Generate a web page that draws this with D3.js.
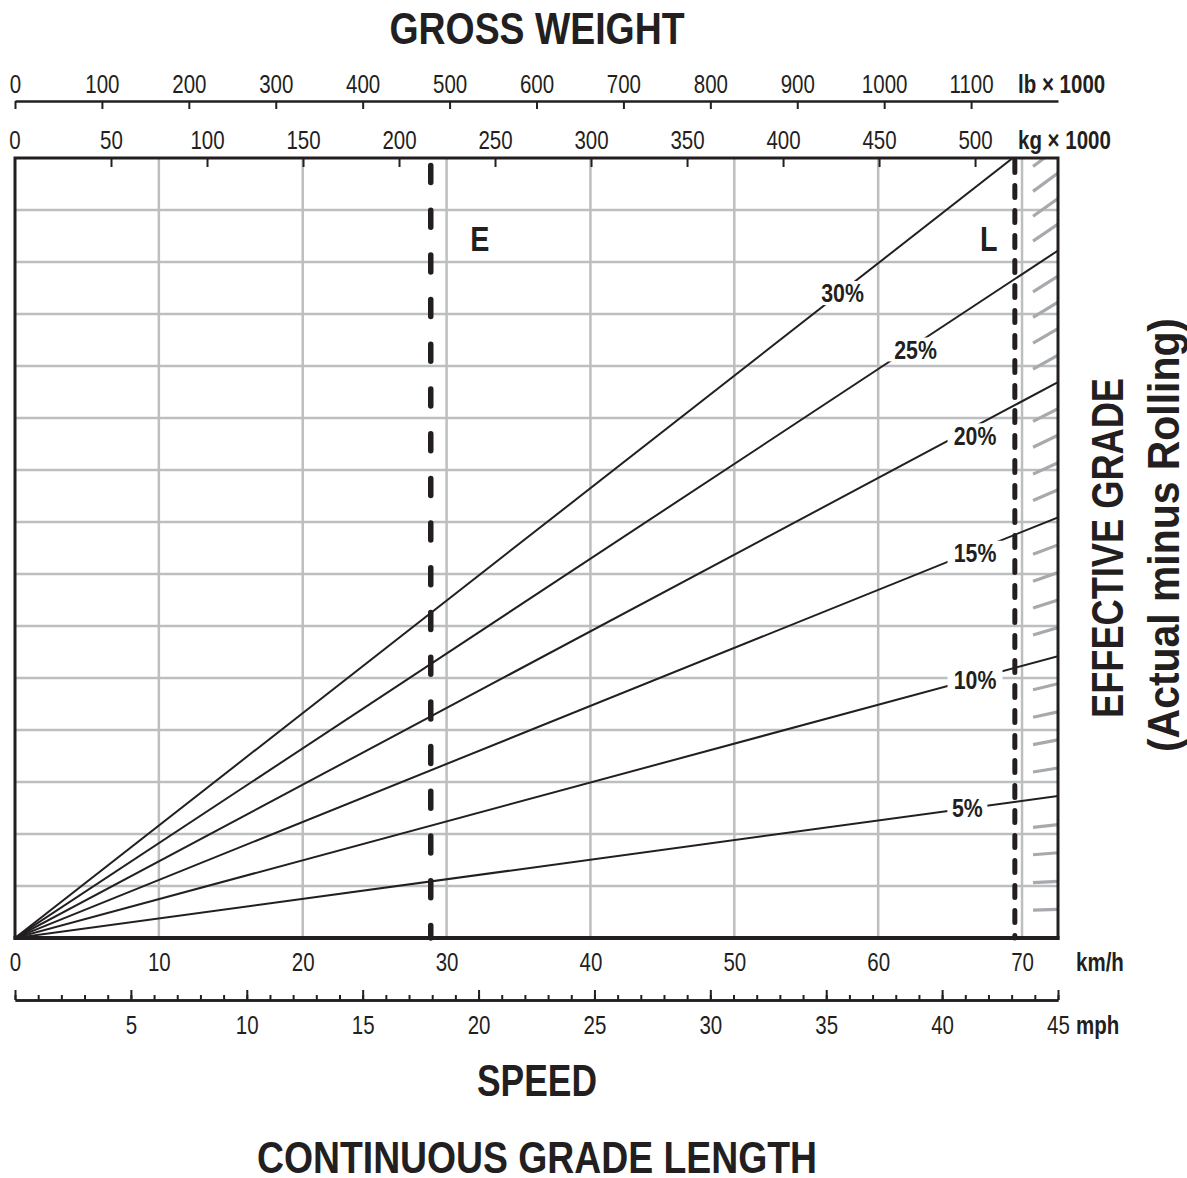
<!DOCTYPE html>
<html lang="en">
<head>
<meta charset="UTF-8">
<title>Effective grade</title>
<style>
    body { margin: 0; background: #fff; }
    text { font-family: "Liberation Sans", Arial, sans-serif; fill: #231f20; }
    .bold { font-weight: bold; }
</style>
</head>
<body>
<div class="chart"></div>
<script src="https://d3js.org/d3.v7.min.js"></script>
<script>
    var w = 1187, h = 1178;
    var plotLeft = 15, plotRight = 1058, plotTop = 158, plotBottom = 938;
    var narrow = "scale(0.82,1)";

    // axis ticks
    var lbTicks = [0, 100, 200, 300, 400, 500, 600, 700, 800, 900, 1000, 1100];
    var kgTicks = [50, 100, 150, 200, 250, 300, 350, 400, 450, 500];
    var kmhTicks = [0, 10, 20, 30, 40, 50, 60, 70];
    var mphMajor = [0, 5, 10, 15, 20, 25, 30, 35, 40, 45];
    var mphMinor = d3.range(0, 46);

    // grade lines: value reached at the right edge (grid units, 15 = top)
    var gradeLabels = ["5%", "10%", "15%", "20%", "25%", "30%"];
    var gradeEnd = [2.73, 5.42, 8.09, 10.69, 13.22, 15.68];
    var gradeLabelAt = [496, 500, 500, 500, 469, 431];   // kg x 1000 along the line

    // 1% marks at the right edge
    var minorEnd = [0.55, 1.09, 1.64, 2.18, 3.27, 3.81, 4.35, 4.89, 5.97, 6.50, 7.03, 7.56,
                    8.62, 9.14, 9.67, 10.18, 11.21, 11.72, 12.23, 12.73, 13.73, 14.22, 14.71, 15.20];

    // E / L speed limits (km/h)
    var markers = ["E", "L"];
    var markerSpeed = [28.9, 69.5];

    var ink = "#231f20", grid = "#bcbec0", hatch = "#a7a9ac";

    var svg = d3.select(".chart").append("svg")
        .attr("width", w).attr("height", h);

    var kgMax = 543.2;
    var x = d3.scaleLinear().domain([0, kgMax]).range([plotLeft, plotRight]);
    var xLb = d3.scaleLinear().domain([0, 1200]).range([plotLeft, plotRight]);
    var xKmh = d3.scaleLinear().domain([0, 72.5]).range([plotLeft, plotRight]);
    var xMph = d3.scaleLinear().domain([0, 45]).range([plotLeft, plotRight]);
    var y = d3.scaleLinear().domain([0, 15]).range([plotBottom, plotTop]);

    // condensed text: a group at (tx, ty) holding a horizontally squeezed text
    function label(parent, str, tx, ty, size, anchor, bold) {
        var g = parent.append("g").attr("transform", "translate(" + tx + "," + ty + ")");
        g.append("text").attr("class", bold ? "bold" : null)
            .attr("transform", narrow)
            .attr("text-anchor", anchor).attr("dy", "0.36em")
            .style("font-size", size + "px")
            .text(str);
        return g;
    }

    svg.append("clipPath").attr("id", "plot")
        .append("rect").attr("x", plotLeft).attr("y", plotTop)
        .attr("width", plotRight - plotLeft).attr("height", plotBottom - plotTop);

    // grid
    svg.append("g").selectAll("line").data(d3.range(1, 15)).enter()
        .append("line")
        .attr("x1", plotLeft).attr("x2", plotRight)
        .attr("y1", function(d) { return y(d); })
        .attr("y2", function(d) { return y(d); })
        .attr("stroke", grid).attr("stroke-width", 2.5);
    svg.append("g").selectAll("line").data(kmhTicks.slice(1)).enter()
        .append("line")
        .attr("x1", function(d) { return xKmh(d); })
        .attr("x2", function(d) { return xKmh(d); })
        .attr("y1", plotTop).attr("y2", plotBottom)
        .attr("stroke", grid).attr("stroke-width", 2.5);

    // 1% hatch marks
    var hx0 = 530.2;
    svg.append("g").attr("clip-path", "url(#plot)")
        .selectAll("line").data(minorEnd).enter()
        .append("line")
        .attr("x1", x(hx0)).attr("x2", x(kgMax))
        .attr("y1", function(d) { return y(d * hx0 / kgMax); })
        .attr("y2", function(d) { return y(d); })
        .attr("stroke", hatch).attr("stroke-width", 3.2);

    // grade lines
    svg.append("g").attr("clip-path", "url(#plot)")
        .selectAll("line").data(gradeEnd).enter()
        .append("line")
        .attr("x1", x(0)).attr("y1", y(0))
        .attr("x2", x(kgMax))
        .attr("y2", function(d) { return y(d); })
        .attr("stroke", ink).attr("stroke-width", 2);

    // grade labels (small nudges to sit like the print)
    var labelNudge = [-1, 1, 2, 9, 5, 2];
    var gLabels = svg.append("g");
    gradeLabels.forEach(function(d, i) {
        var kx = gradeLabelAt[i];
        var g = label(gLabels, d, x(kx), y(gradeEnd[i] * kx / kgMax) + labelNudge[i], 26, "middle", true);
        var half = d.length * 7.5 + 5;
        g.insert("rect", "text")
            .attr("x", -half).attr("width", half * 2)
            .attr("y", -12).attr("height", 24)
            .attr("fill", "#fff");
    });

    // E / L dashed lines
    var dash = [{w: 5.5, arr: "17,27.7", y0: 165.5}, {w: 5, arr: "12,13", y0: 160.5}];
    svg.append("g").selectAll("line").data(markerSpeed).enter()
        .append("line")
        .attr("x1", function(d) { return xKmh(d); })
        .attr("x2", function(d) { return xKmh(d); })
        .attr("y1", function(d, i) { return dash[i].y0; })
        .attr("y2", plotBottom)
        .attr("stroke", ink)
        .attr("stroke-width", function(d, i) { return dash[i].w; })
        .attr("stroke-linecap", "round")
        .attr("stroke-dasharray", function(d, i) { return dash[i].arr; });
    var labelDx = [49, -26];
    markers.forEach(function(d, i) {
        label(svg, d, xKmh(markerSpeed[i]) + labelDx[i], 238, 35, "middle", true);
    });

    // plot border
    svg.append("rect").attr("x", plotLeft).attr("y", plotTop)
        .attr("width", plotRight - plotLeft).attr("height", plotBottom - plotTop)
        .attr("fill", "none").attr("stroke", ink).attr("stroke-width", 3);
    svg.append("line").attr("x1", plotLeft - 1.5).attr("x2", plotRight + 1.5)
        .attr("y1", plotBottom).attr("y2", plotBottom)
        .attr("stroke", ink).attr("stroke-width", 4);

    function styleAxis(g, size) {
        g.selectAll("text").style("font-size", size + "px").attr("fill", ink)
            .attr("transform", narrow);
        g.selectAll("line").attr("stroke", ink).attr("stroke-width", 2);
        g.select(".domain").attr("stroke", ink).attr("stroke-width", 2.5);
    }
    var fmt = d3.format("d");

    // lb axis (top)
    var gLb = svg.append("g").attr("transform", "translate(0,101)")
        .call(d3.axisTop(xLb).tickValues(lbTicks).tickSize(-8).tickSizeOuter(0)
            .tickPadding(8).tickFormat(fmt));
    styleAxis(gLb, 25);

    // kg axis (plot top)
    var gKg = svg.append("g").attr("transform", "translate(0," + plotTop + ")")
        .call(d3.axisTop(x).tickValues(kgTicks).tickSize(-9).tickSizeOuter(0)
            .tickPadding(9).tickFormat(fmt));
    styleAxis(gKg, 25);
    gKg.select(".domain").remove();
    label(svg, "0", plotLeft, 140, 25, "middle", false);

    // km/h labels
    var gKmh = svg.append("g").attr("transform", "translate(0," + plotBottom + ")")
        .call(d3.axisBottom(xKmh).tickValues(kmhTicks).tickSize(0).tickPadding(15).tickFormat(fmt));
    styleAxis(gKmh, 25);
    gKmh.select(".domain").remove();

    // mph axis
    var gMphMinor = svg.append("g").attr("transform", "translate(0,1000)")
        .call(d3.axisBottom(xMph).tickValues(mphMinor).tickSize(-5).tickSizeOuter(0).tickFormat(""));
    styleAxis(gMphMinor, 25);
    var gMph = svg.append("g").attr("transform", "translate(0,1000)")
        .call(d3.axisBottom(xMph).tickValues(mphMajor).tickSize(-10).tickSizeOuter(0).tickPadding(16)
            .tickFormat(function(d) { return d === 0 ? "" : d; }));
    styleAxis(gMph, 25);

    // unit labels
    label(svg, "lb \u00d7 1000", 1018, 84, 25, "start", true);
    label(svg, "kg \u00d7 1000", 1018, 140, 25, "start", true);
    label(svg, "km/h", 1076, 962, 25, "start", true);
    label(svg, "mph", 1076, 1025, 25, "start", true);

    // titles
    var titles = [["GROSS WEIGHT", 537, 28, 295], ["SPEED", 537, 1080, 120],
                  ["CONTINUOUS GRADE LENGTH", 537, 1157, 560]];
    svg.append("g").selectAll("text").data(titles).enter()
        .append("text").attr("class", "bold")
        .attr("x", function(d) { return d[1]; })
        .attr("y", function(d) { return d[2]; })
        .attr("dy", "0.36em").attr("text-anchor", "middle")
        .attr("textLength", function(d) { return d[3]; })
        .attr("lengthAdjust", "spacingAndGlyphs")
        .style("font-size", "45px")
        .text(function(d) { return d[0]; });

    var side = [["EFFECTIVE GRADE", 1107, 548, 340], ["(Actual minus Rolling)", 1163, 535, 434]];
    svg.append("g").selectAll("text").data(side).enter()
        .append("text").attr("class", "bold")
        .attr("transform", function(d) { return "translate(" + d[1] + "," + d[2] + ") rotate(-90)"; })
        .attr("dy", "0.36em").attr("text-anchor", "middle")
        .attr("textLength", function(d) { return d[3]; })
        .attr("lengthAdjust", "spacingAndGlyphs")
        .style("font-size", "44px")
        .text(function(d) { return d[0]; });
</script>
</body>
</html>
